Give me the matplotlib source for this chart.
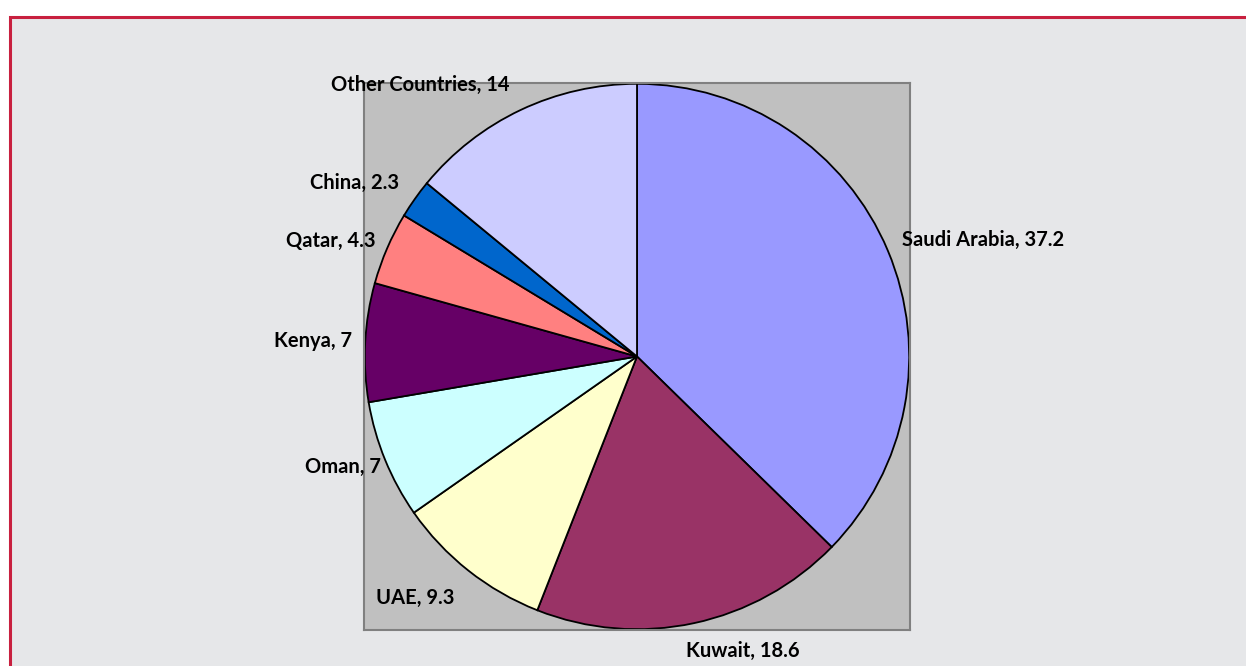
import matplotlib.pyplot as plt
from matplotlib.patches import Rectangle

# export destinations (share, %)
countries = ['Saudi Arabia', 'Kuwait', 'UAE', 'Oman', 'Kenya', 'Qatar', 'China', 'Other Countries']
shares = [37.2, 18.6, 9.3, 7, 7, 4.3, 2.3, 14]
colors = ['#9999ff', '#993366', '#ffffcc', '#ccffff', '#660066', '#ff8080', '#0066cc', '#ccccff']

# label centres in pixels of the 1246x666 picture
label_pos = [(983, 240), (743, 651), (415, 598), (343, 467),
             (313, 341), (331, 241), (355, 183), (420, 85)]

W, H = 1246, 666
fig = plt.figure(figsize=(W / 100, H / 100), dpi=100, facecolor='white')

# chart frame: grey fill with red border, runs off right and bottom edge
frame = Rectangle((10 / W, -0.05), 1.1, (H - 17) / H + 0.05, transform=fig.transFigure,
                  facecolor='#e6e7e9', edgecolor='#c8203f', linewidth=2.2, zorder=-5)
fig.patches.append(frame)

# plot area
ax = fig.add_axes([364 / W, (H - 630) / H, 546 / W, 547 / H])
ax.set_zorder(2)

ax.pie(shares, colors=colors, startangle=90, counterclock=False, radius=1,
       wedgeprops=dict(edgecolor='black', linewidth=1.3))
# pie() switches the frame off, put the grey plot area back
ax.set_frame_on(True)
ax.set_facecolor('#c0c0c0')
for s in ax.spines.values():
    s.set_color('#808080')
    s.set_linewidth(1.5)
ax.set_xlim(-1.003, 1.003)
ax.set_ylim(-1.003, 1.003)
ax.set_aspect('auto')
ax.set_xticks([])
ax.set_yticks([])

for name, val, (px, py) in zip(countries, shares, label_pos):
    fig.text(px / W, 1 - py / H, f'{name}, {val:g}', ha='center', va='center', zorder=10,
             fontsize=14.5, fontweight='bold', family=['Lato', 'DejaVu Sans'], color='black')

fig.savefig('out.png', dpi=100, facecolor=fig.get_facecolor())
